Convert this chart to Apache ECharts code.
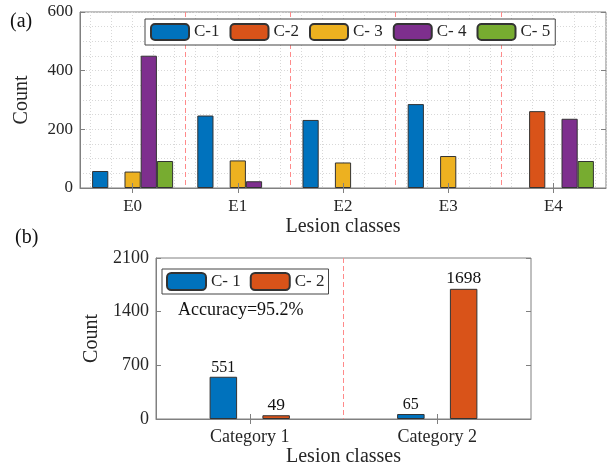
<!DOCTYPE html>
<html>
<head>
<meta charset="utf-8">
<script src="https://cdn.jsdelivr.net/npm/echarts@6/dist/echarts.min.js"></script>
<style>html,body{margin:0;padding:0;background:#fff;}#c{width:607px;height:469px;}</style>
</head>
<body>
<div id="c"></div>
<script>
// ---- data: panel (a) ----
const classesA = ['E0', 'E1', 'E2', 'E3', 'E4'];
const namesA = ['C-1', 'C-2', 'C- 3', 'C- 4', 'C- 5'];
const c1 = [58, 247, 232, 286, 0];
const c2 = [0, 0, 0, 0, 262];
const c3 = [56, 94, 87, 109, 0];
const c4 = [451, 23, 0, 0, 236];
const c5 = [92, 0, 0, 0, 92];
const yTicksA = [0, 200, 400, 600];
// ---- data: panel (b) ----
const classesB = ['Category 1', 'Category 2'];
const namesB = ['C- 1', 'C- 2'];
const b1 = [551, 65];
const b2 = [49, 1698];
const yTicksB = [0, 700, 1400, 2100];
const accuracyText = 'Accuracy=95.2%';

const colors = ['#0072BD', '#D95319', '#EDB120', '#7E2F8E', '#77AC30'];
const FONT = 'Liberation Serif';
const TXT = '#262626';
const AX = '#808080';
const GRIDC = '#d8d8d8';

const valsA = [c1, c2, c3, c4, c5];
const minorCells = Array.from({length: classesA.length * 10}, () => '');
const plain = v => String(v);

const chart = echarts.init(document.getElementById('c'));
const seriesA = namesA.map((n, i) => ({
  name: n, type: 'bar', xAxisIndex: 0, yAxisIndex: 0,
  data: valsA[i].map(v => v === 0 ? null : v),
  barGap: '0%', barCategoryGap: '23%',
  itemStyle: {color: colors[i], borderColor: '#333', borderWidth: 1},
  emphasis: {disabled: true}, z: 3
}));
const labelSizesB = [16, 17.5];
const seriesB = [b1, b2].map((d, i) => ({
  name: namesB[i], type: 'bar', xAxisIndex: 3, yAxisIndex: 2,
  data: d, barWidth: 27.5, barGap: '92%',
  itemStyle: {color: colors[i], borderColor: '#333', borderWidth: 1},
  label: {show: true, position: 'top', distance: 1, fontFamily: FONT, fontSize: labelSizesB[i], color: '#111'},
  emphasis: {disabled: true}, z: 3
}));

const tickIn = {show: true, inside: true, length: 5, lineStyle: {color: AX}};
const redDash = {show: true, showMinLine: false, showMaxLine: false,
  lineStyle: {color: '#ff8a8a', type: [5, 3], width: 1}};
const nameStyle = {fontFamily: FONT, fontSize: 20, color: TXT};

chart.setOption({
  animation: false,
  backgroundColor: '#fff',
  textStyle: {fontFamily: FONT},
  grid: [
    {left: 80, right: 1, top: 12, bottom: 281, show: true, borderColor: AX, borderWidth: 1,
     backgroundColor: 'transparent', containLabel: false, outerBoundsMode: 'none'},
    {left: 156, right: 76, top: 258, bottom: 50, show: true, borderColor: AX, borderWidth: 1,
     backgroundColor: 'transparent', containLabel: false, outerBoundsMode: 'none'}
  ],
  legend: [
    {data: namesA, left: 145, top: 19, orient: 'horizontal', itemWidth: 38, itemHeight: 16, itemGap: 10,
     padding: [4, 5], borderColor: '#444', borderWidth: 1, backgroundColor: '#fff',
     textStyle: {fontFamily: FONT, fontSize: 17, color: TXT}, selectedMode: false, z: 10},
    {data: namesB, left: 162, top: 269, orient: 'horizontal', itemWidth: 39, itemHeight: 17, itemGap: 9,
     padding: [3, 4], borderColor: '#444', borderWidth: 1, backgroundColor: '#fff',
     textStyle: {fontFamily: FONT, fontSize: 17, color: TXT}, selectedMode: false, z: 10}
  ],
  xAxis: [
    {type: 'category', gridIndex: 0, data: classesA, position: 'bottom',
     axisLine: {show: true, lineStyle: {color: AX}},
     axisTick: Object.assign({alignWithLabel: true}, tickIn),
     axisLabel: {fontFamily: FONT, fontSize: 17, color: TXT, margin: 10},
     splitLine: redDash,
     name: 'Lesion classes', nameLocation: 'middle', nameGap: 29,
     nameTextStyle: nameStyle, z: 5},
    {type: 'category', gridIndex: 0, data: classesA, position: 'top',
     axisLine: {show: false}, axisTick: Object.assign({alignWithLabel: true}, tickIn),
     axisLabel: {show: false}, splitLine: {show: false}},
    {type: 'category', gridIndex: 0, data: minorCells, position: 'bottom',
     axisLine: {show: false}, axisTick: {show: false}, axisLabel: {show: false},
     splitLine: {show: true, interval: (idx) => idx % 2 === 1,
       lineStyle: {color: GRIDC, type: [1, 2], width: 1}}, z: 0},
    {type: 'category', gridIndex: 1, data: classesB, position: 'bottom',
     axisLine: {show: true, lineStyle: {color: AX}},
     axisTick: Object.assign({alignWithLabel: true}, tickIn),
     axisLabel: {fontFamily: FONT, fontSize: 18, color: TXT, margin: 9},
     splitLine: redDash,
     name: 'Lesion classes', nameLocation: 'middle', nameGap: 28,
     nameTextStyle: nameStyle, z: 5},
    {type: 'category', gridIndex: 1, data: classesB, position: 'top',
     axisLine: {show: false}, axisTick: Object.assign({alignWithLabel: true}, tickIn),
     axisLabel: {show: false}, splitLine: {show: false}}
  ],
  yAxis: [
    {type: 'value', gridIndex: 0, min: yTicksA[0], max: yTicksA[yTicksA.length - 1], interval: yTicksA[1] - yTicksA[0],
     axisLine: {show: true, lineStyle: {color: AX}}, axisTick: tickIn,
     axisLabel: {fontFamily: FONT, fontSize: 17, color: TXT, margin: 7, formatter: plain},
     splitLine: {show: true, lineStyle: {color: GRIDC, type: [1, 2], width: 1}},
     minorTick: {show: false, splitNumber: 4},
     minorSplitLine: {show: true, lineStyle: {color: GRIDC, type: [1, 2], width: 1}},
     name: 'Count', nameLocation: 'middle', nameGap: 48,
     nameTextStyle: nameStyle},
    {type: 'value', gridIndex: 0, position: 'right', min: yTicksA[0], max: yTicksA[yTicksA.length - 1], interval: yTicksA[1] - yTicksA[0],
     axisLine: {show: false}, axisTick: tickIn, axisLabel: {show: false}, splitLine: {show: false}},
    {type: 'value', gridIndex: 1, min: yTicksB[0], max: yTicksB[yTicksB.length - 1], interval: yTicksB[1] - yTicksB[0],
     axisLine: {show: true, lineStyle: {color: AX}}, axisTick: tickIn,
     axisLabel: {fontFamily: FONT, fontSize: 18, color: TXT, margin: 7, formatter: plain},
     splitLine: {show: false},
     name: 'Count', nameLocation: 'middle', nameGap: 46,
     nameTextStyle: nameStyle},
    {type: 'value', gridIndex: 1, position: 'right', min: yTicksB[0], max: yTicksB[yTicksB.length - 1], interval: yTicksB[1] - yTicksB[0],
     axisLine: {show: false}, axisTick: tickIn, axisLabel: {show: false}, splitLine: {show: false}}
  ],
  graphic: [
    {type: 'text', left: 10, top: 12, style: {text: '(a)', fontFamily: FONT, fontSize: 20, fill: '#111'}},
    {type: 'text', left: 15, top: 228, style: {text: '(b)', fontFamily: FONT, fontSize: 20, fill: '#111'}},
    {type: 'text', left: 178, top: 301, style: {text: accuracyText, fontFamily: FONT, fontSize: 18, fill: '#111'}}
  ],
  series: seriesA.concat(seriesB)
});
</script>
</body>
</html>
